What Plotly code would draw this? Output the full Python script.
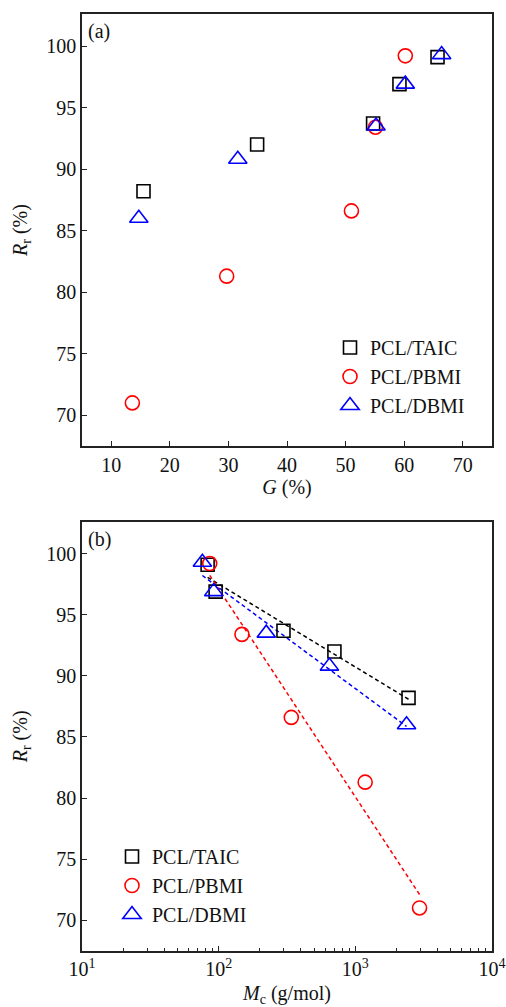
import numpy as np
import plotly.graph_objects as go

# ---------------- data ----------------
series_names = ["PCL/TAIC", "PCL/PBMI", "PCL/DBMI"]
series_colors = ["black", "red", "blue"]
series_symbols = ["square-open", "circle-open", "triangle-up-open"]

# panel (a): G (%) vs Rr (%)
g_taic = [15.5, 34.9, 54.7, 59.2, 65.7]
r_taic = [88.2, 92.0, 93.7, 96.9, 99.1]
g_pbmi = [13.6, 29.7, 51.0, 55.1, 60.2]
r_pbmi = [71.0, 81.3, 86.6, 93.4, 99.2]
g_dbmi = [14.7, 31.6, 55.2, 60.2, 66.4]
r_dbmi = [86.0, 90.8, 93.5, 96.9, 99.3]

# panel (b): Mc (g/mol) vs Rr (%)  (same order as the R arrays)
mc_taic = [2450, 703, 298, 95, 83]
mc_pbmi = [2950, 1180, 340, 148, 86]
mc_dbmi = [2370, 646, 223, 92, 76]

x_a_ticks = [10, 20, 30, 40, 50, 60, 70]
y_ticks = [70, 75, 80, 85, 90, 95, 100]
x_b_tickvals = [10, 100, 1000, 10000]
x_b_ticktext = ["10<sup>1</sup>", "10<sup>2</sup>", "10<sup>3</sup>", "10<sup>4</sup>"]
x_b_minor = [m * d for d in (10, 100, 1000) for m in range(2, 10)]

FONT = "Liberation Serif"
marker_sizes = [13, 14, 16]

fig = go.Figure()

ga = [g_taic, g_pbmi, g_dbmi]
ra = [r_taic, r_pbmi, r_dbmi]
mcb = [mc_taic, mc_pbmi, mc_dbmi]

# panel (a)
for i in range(3):
    fig.add_trace(go.Scatter(
        x=ga[i], y=ra[i], mode="markers", name=series_names[i],
        marker=dict(symbol=series_symbols[i], size=marker_sizes[i],
                    color=series_colors[i], line=dict(width=1.6, color=series_colors[i])),
        xaxis="x", yaxis="y", legend="legend"))

# panel (b) fit lines (linear in log Mc)
for i in range(3):
    lx = np.log10(np.array(mcb[i], dtype=float))
    k, b = np.polyfit(lx, np.array(ra[i]), 1)
    xs = np.array([lx.min(), lx.max()])
    fig.add_trace(go.Scatter(
        x=10 ** xs, y=k * xs + b, mode="lines", showlegend=False,
        line=dict(color=series_colors[i], width=1.5, dash="4px,3px"),
        xaxis="x2", yaxis="y2", hoverinfo="skip"))

# panel (b) markers
for i in range(3):
    fig.add_trace(go.Scatter(
        x=mcb[i], y=ra[i], mode="markers", name=series_names[i],
        marker=dict(symbol=series_symbols[i], size=marker_sizes[i],
                    color=series_colors[i], line=dict(width=1.6, color=series_colors[i])),
        xaxis="x2", yaxis="y2", legend="legend2"))

axis_common = dict(showline=True, linecolor="#222", linewidth=1.5, mirror=True,
                   ticks="inside", ticklen=5, tickwidth=1.3, tickcolor="#222",
                   showgrid=False, zeroline=False, automargin=False,
                   tickfont=dict(family=FONT, size=20, color="#111"))

xdom = [82 / 506, 492 / 506]
fig.update_layout(
    width=506, height=1007,
    margin=dict(l=0, r=0, t=0, b=0),
    paper_bgcolor="white", plot_bgcolor="white",
    font=dict(family=FONT, size=20, color="#111"),
    xaxis=dict(domain=xdom, range=[5, 75], tickvals=x_a_ticks, anchor="y",
               title=dict(text="<i>G</i> (%)", standoff=1, font=dict(family=FONT, size=20)),
               **axis_common),
    yaxis=dict(domain=[1 - 446 / 1007, 1 - 14 / 1007], range=[67.5, 102.6], tickvals=y_ticks,
               anchor="x",
               title=dict(text="<i>R</i><sub>r</sub> (%)", standoff=13, font=dict(family=FONT, size=20)),
               **axis_common),
    xaxis2=dict(domain=xdom, type="log", range=[1, 4], tickvals=x_b_tickvals,
                ticktext=x_b_ticktext, anchor="y2",
                minor=dict(ticks="inside", ticklen=3, tickwidth=1, tickcolor="#222",
                           showgrid=False, tickvals=x_b_minor),
                title=dict(text="<i>M</i><sub>c</sub> (g/mol)", standoff=7, font=dict(family=FONT, size=20)),
                **axis_common),
    yaxis2=dict(domain=[1 - 950.7 / 1007, 1 - 522 / 1007], range=[67.5, 102.6], tickvals=y_ticks,
                anchor="x2",
                title=dict(text="<i>R</i><sub>r</sub> (%)", standoff=13, font=dict(family=FONT, size=20)),
                **axis_common),
    legend=dict(x=330 / 506, y=1 - 328 / 1007, xanchor="left", yanchor="top",
                bgcolor="rgba(0,0,0,0)", font=dict(family=FONT, size=20, color="#111"),
                tracegroupgap=0, itemsizing="trace"),
    legend2=dict(x=112 / 506, y=1 - 837 / 1007, xanchor="left", yanchor="top",
                 bgcolor="rgba(0,0,0,0)", font=dict(family=FONT, size=20, color="#111"),
                 tracegroupgap=0, itemsizing="trace"),
    showlegend=True,
    annotations=[
        dict(text="(a)", xref="paper", yref="paper", x=86 / 506, y=1 - 18 / 1007,
             xanchor="left", yanchor="top", showarrow=False, font=dict(family=FONT, size=20, color="#111")),
        dict(text="(b)", xref="paper", yref="paper", x=86 / 506, y=1 - 526 / 1007,
             xanchor="left", yanchor="top", showarrow=False, font=dict(family=FONT, size=20, color="#111")),
    ],
)

fig.write_html("out.html", config={"displayModeBar": False},
               post_script="document.body.style.margin='0px';document.body.style.overflow='hidden';")
